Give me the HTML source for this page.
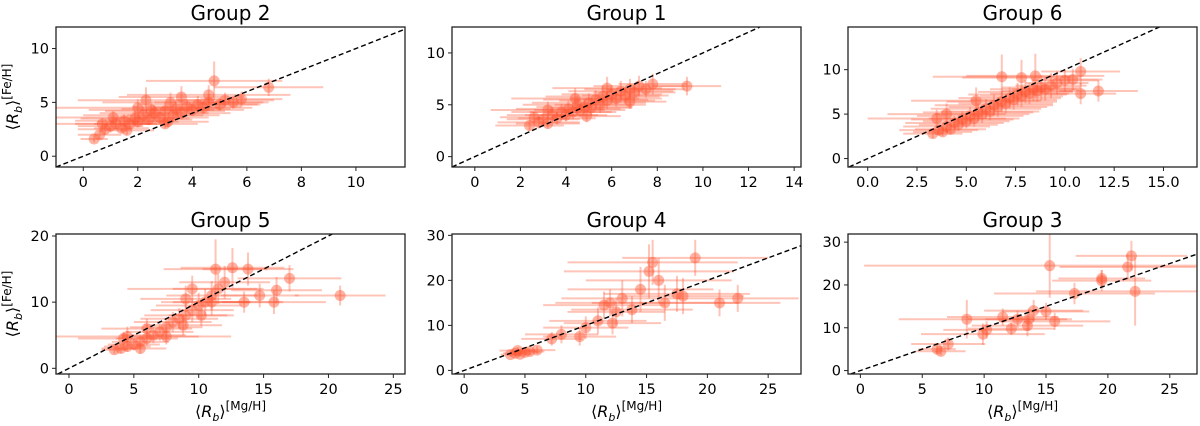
<!DOCTYPE html>
<html><head><meta charset="utf-8">
<style>
html,body{margin:0;padding:0;background:#fff;}
svg{display:block;font-family:"DejaVu Sans","Liberation Sans",sans-serif;}
</style></head>
<body>
<svg id="chart" width="1200" height="426" viewBox="0 0 1200 426" xmlns="http://www.w3.org/2000/svg"></svg>
<script>
// Group 2
const g2x=[0.4,0.6,0.8,1.0,1.2,1.4,1.5,1.7,1.9,2.0,2.2,2.3,2.4,2.6,2.8,3.0,3.1,3.2,3.4,3.6,3.6,3.8,4.0,4.2,4.4,4.6,4.8,5.0,5.2,5.5,5.8,6.8,1.1,0.7,2.0,2.5,3.0,1.6,4.6,3.3];
const g2y=[1.6,2.0,2.5,2.8,3.0,2.6,3.3,3.0,3.5,3.2,3.8,5.2,3.4,4.0,3.6,4.2,3.2,5.0,4.4,4.0,5.5,4.6,4.3,4.8,4.5,5.0,7.0,4.8,5.2,5.0,5.3,6.4,3.6,3.0,4.5,4.3,3.0,2.4,5.7,3.8];
const g2xe=[0.5,0.8,1.0,1.2,1.5,1.0,1.8,1.3,2.0,1.5,2.2,2.5,1.6,2.0,1.8,2.2,1.5,2.5,2.0,1.8,2.3,2.0,1.9,2.2,1.8,2.0,2.5,1.5,1.8,1.3,1.5,2.0,2.5,1.8,3.0,2.3,1.2,1.0,3.0,1.7];
const g2ye=[0.3,0.4,0.5,0.6,0.5,0.4,0.6,0.5,0.7,0.5,0.8,1.2,0.5,0.7,0.6,0.8,0.5,0.9,0.7,0.6,1.0,0.7,0.6,0.8,0.6,0.8,1.8,0.6,0.7,0.6,0.7,0.8,0.6,0.5,0.8,0.7,0.4,0.4,0.9,0.6];
// Group 1
const g1x=[2.4,2.8,3.0,3.2,3.4,3.6,3.8,4.0,4.1,4.3,4.5,4.6,4.8,5.0,5.1,5.3,5.5,5.6,5.8,6.0,6.2,6.4,6.6,6.8,7.0,7.2,7.5,7.8,9.3,3.2,4.4,2.6,5.8,6.8,4.9];
const g1y=[3.0,3.3,3.6,3.2,4.0,3.7,4.3,4.0,4.6,4.3,5.0,4.5,4.8,5.2,4.7,5.5,5.0,5.8,5.4,6.0,5.6,6.3,5.9,6.5,6.2,6.8,6.5,7.0,6.8,4.5,5.6,3.8,6.6,5.3,3.9];
const g1xe=[1.5,1.8,1.6,1.4,2.0,1.7,2.2,1.8,2.3,1.9,2.4,2.0,2.1,2.5,1.8,2.3,2.0,2.5,2.1,2.2,2.0,2.3,1.9,2.0,1.8,2.0,1.7,1.5,1.5,2.5,2.8,1.5,2.4,1.6,1.5];
const g1ye=[0.5,0.6,0.6,0.5,0.7,0.6,0.8,0.6,0.8,0.7,0.9,0.7,0.8,0.9,0.7,0.9,0.8,1.0,0.8,0.9,0.8,1.0,0.8,1.0,0.8,1.0,0.8,1.0,0.9,0.8,1.0,0.5,1.1,0.7,0.6];
// Group 6
const g6x=[3.3,3.6,3.8,4.0,4.2,4.4,4.6,4.8,5.0,5.2,5.4,5.6,5.8,6.0,6.2,6.4,6.6,6.8,7.0,7.2,7.4,7.6,7.8,8.0,8.2,8.4,8.6,8.8,9.0,9.3,9.6,10.0,10.4,10.8,11.7,10.8,6.8,7.8,8.5,4.0,3.5,5.5];
const g6y=[2.8,3.2,3.0,3.6,3.3,4.0,3.8,4.4,4.2,4.8,4.5,5.2,5.0,5.6,5.3,6.0,5.8,6.4,6.2,6.8,6.6,7.2,7.0,7.5,7.3,7.8,7.6,8.0,7.8,8.2,8.5,8.8,8.9,9.8,7.6,7.3,9.2,9.1,9.3,5.0,4.5,6.5];
const g6xe=[1.5,2.0,1.5,2.2,1.8,2.5,2.0,2.6,2.2,2.7,2.3,2.8,2.4,2.8,2.5,3.0,2.5,2.8,2.4,2.6,2.2,2.5,2.1,2.4,2.0,2.2,1.8,2.0,1.7,1.8,1.6,1.7,1.5,2.0,2.0,1.8,3.5,3.0,3.5,3.0,3.5,3.3];
const g6ye=[0.5,0.6,0.5,0.7,0.6,0.8,0.7,0.9,0.8,1.0,0.9,1.0,1.0,1.1,1.0,1.2,1.1,1.2,1.1,1.2,1.1,1.3,1.2,1.3,1.2,1.3,1.2,1.4,1.3,1.4,1.3,1.3,1.2,1.5,1.2,1.2,2.5,2.0,2.5,1.2,1.0,1.5];
// Group 5
const g5x=[3.5,4.0,4.5,5.0,5.5,6.0,6.5,7.0,7.5,8.0,8.5,9.0,9.5,10.0,10.5,11.0,11.5,12.0,11.3,12.6,13.8,17.0,16.0,14.7,15.8,13.5,20.9,9.0,11.0,4.2,6.0,7.5,5.5,8.8,10.2,4.5,9.5];
const g5y=[2.8,3.0,3.3,3.6,4.0,4.5,5.0,5.5,6.2,7.0,7.5,8.0,8.8,9.5,10.0,11.0,12.0,13.0,15.0,15.2,15.0,13.6,11.8,11.0,10.0,10.0,11.0,10.5,10.0,4.5,6.0,4.8,3.0,6.5,8.0,4.8,12.0];
const g5xe=[1.0,1.5,1.8,2.0,2.2,2.4,2.5,2.6,2.8,3.0,3.0,3.2,3.2,3.3,3.4,3.5,3.5,3.5,4.0,4.0,3.5,4.0,3.5,3.0,4.0,3.0,3.5,3.5,3.0,3.5,3.5,2.5,2.0,3.0,2.5,8.0,5.0];
const g5ye=[0.6,0.7,0.8,0.9,1.0,1.1,1.2,1.3,1.4,1.5,1.6,1.7,1.8,1.9,2.0,2.2,2.3,2.5,4.5,3.0,2.5,2.0,2.0,1.8,1.8,1.6,1.5,2.0,2.0,1.0,1.5,1.2,0.8,1.5,1.6,1.5,2.0];
// Group 4
const g4x=[3.8,4.2,4.6,5.0,5.4,4.4,6.0,7.2,8.0,9.5,10.0,11.0,11.5,12.0,12.5,13.0,13.8,14.5,15.2,15.5,16.0,16.5,17.5,18.0,19.0,21.0,22.5,12.2];
const g4y=[3.5,3.8,3.6,4.0,4.2,4.4,4.5,7.0,8.0,7.5,9.5,11.0,14.5,15.0,13.0,16.0,13.5,18.0,22.0,24.0,20.0,15.0,17.0,16.5,25.0,15.0,16.0,10.5];
const g4xe=[0.8,1.0,1.0,1.2,1.2,1.5,1.5,2.5,3.0,3.0,3.5,4.0,5.0,4.5,4.0,5.0,5.0,6.0,7.0,7.0,6.0,6.0,6.0,5.0,6.0,5.0,5.0,4.0];
const g4ye=[0.5,0.6,0.6,0.7,0.7,0.8,0.8,1.5,2.0,2.0,2.5,3.0,3.0,3.0,3.0,4.0,3.0,5.0,6.0,5.0,5.0,4.0,4.0,4.0,4.0,3.0,3.0,2.5];
// Group 3
const g3x=[6.2,6.5,7.1,8.6,9.9,10.2,11.5,12.2,12.7,13.5,13.6,14.0,15.0,15.3,15.7,17.3,19.5,19.5,21.6,21.9,22.2];
const g3y=[5.0,4.5,6.2,12.0,8.5,9.5,12.5,9.8,12.0,10.5,12.0,14.0,13.8,24.5,11.5,18.0,21.0,21.5,24.2,26.8,18.5];
const g3xe=[1.5,2.0,3.0,5.5,5.0,3.5,4.5,3.5,4.0,4.5,3.5,4.0,3.5,15.0,4.5,6.5,4.0,3.5,5.5,4.5,8.0];
const g3ye=[1.0,1.0,1.5,4.5,2.5,2.0,2.0,1.5,2.0,2.5,2.5,2.5,2.0,7.5,2.0,2.5,2.5,2.0,3.0,3.5,8.0];

const NS="http://www.w3.org/2000/svg";
const svg=document.getElementById('chart');
const COLOR="#ff5733";
function mk(tag,attrs,parent){const e=document.createElementNS(NS,tag);for(const k in attrs)e.setAttribute(k,attrs[k]);(parent||svg).appendChild(e);return e;}

const panels=[
 {id:'group-2',title:'Group 2',L:56,R:405,T:27,B:167,xmin:-1,xmax:11.8,ymin:-1,ymax:12,xt:[0,2,4,6,8,10],xl:['0','2','4','6','8','10'],yt:[0,5,10],xs:g2x,ys:g2y,xe:g2xe,ye:g2ye,ylab:true,xlab:false},
 {id:'group-1',title:'Group 1',L:452,R:801,T:27,B:167,xmin:-1,xmax:14.3,ymin:-1,ymax:12.5,xt:[0,2,4,6,8,10,12,14],xl:['0','2','4','6','8','10','12','14'],yt:[0,5,10],xs:g1x,ys:g1y,xe:g1xe,ye:g1ye,ylab:false,xlab:false},
 {id:'group-6',title:'Group 6',L:848,R:1197,T:27,B:167,xmin:-1,xmax:16.7,ymin:-0.95,ymax:14.8,xt:[0,2.5,5,7.5,10,12.5,15],xl:['0.0','2.5','5.0','7.5','10.0','12.5','15.0'],yt:[0,5,10],xs:g6x,ys:g6y,xe:g6xe,ye:g6ye,ylab:false,xlab:false},
 {id:'group-5',title:'Group 5',L:56,R:405,T:234,B:374,xmin:-1,xmax:25.9,ymin:-0.86,ymax:20.3,xt:[0,5,10,15,20,25],xl:['0','5','10','15','20','25'],yt:[0,10,20],xs:g5x,ys:g5y,xe:g5xe,ye:g5ye,ylab:true,xlab:true},
 {id:'group-4',title:'Group 4',L:452,R:801,T:234,B:374,xmin:-1,xmax:27.7,ymin:-0.8,ymax:30.3,xt:[0,5,10,15,20,25],xl:['0','5','10','15','20','25'],yt:[0,10,20,30],xs:g4x,ys:g4y,xe:g4xe,ye:g4ye,ylab:false,xlab:true},
 {id:'group-3',title:'Group 3',L:848,R:1197,T:234,B:374,xmin:-1,xmax:27.2,ymin:-0.8,ymax:31.9,xt:[0,5,10,15,20,25],xl:['0','5','10','15','20','25'],yt:[0,10,20,30],xs:g3x,ys:g3y,xe:g3xe,ye:g3ye,ylab:false,xlab:true}
];

panels.forEach((p,pi)=>{
  const sx=v=>p.L+(v-p.xmin)/(p.xmax-p.xmin)*(p.R-p.L);
  const sy=v=>p.B-(v-p.ymin)/(p.ymax-p.ymin)*(p.B-p.T);
  const g=mk('g',{});
  
  
  const cp=mk('clipPath',{id:'cp'+pi},g);
  mk('rect',{x:p.L,y:p.T,width:p.R-p.L,height:p.B-p.T},cp);
  const t=mk('text',{x:(p.L+p.R)/2,y:p.T-7,'text-anchor':'middle','font-size':'20'},g);
  t.textContent=p.title;
  
  
  const data=mk('g',{'clip-path':'url(#cp'+pi+')'},g);
  
  
  for(let i=0;i<p.xs.length;i++){
    const x=p.xs[i],y=p.ys[i];
    const h=mk('line',{x1:sx(x-p.xe[i]),x2:sx(x+p.xe[i]),y1:sy(y),y2:sy(y),stroke:COLOR,'stroke-width':2,'stroke-opacity':0.35},data);
    
    
    const v=mk('line',{x1:sx(x),x2:sx(x),y1:sy(y-p.ye[i]),y2:sy(y+p.ye[i]),stroke:COLOR,'stroke-width':2,'stroke-opacity':0.35},data);
    
    
    const c=mk('circle',{cx:sx(x),cy:sy(y),r:5.5,fill:COLOR,'fill-opacity':0.45},data);
    
    
  }
  const lo=Math.max(p.xmin,p.ymin),hi=Math.min(p.xmax,p.ymax);
  const d=mk('line',{x1:sx(lo),y1:sy(lo),x2:sx(hi),y2:sy(hi),stroke:'#000','stroke-width':1.4,'stroke-dasharray':'5,3','clip-path':'url(#cp'+pi+')'},g);
  
  
  const fr=mk('rect',{x:p.L,y:p.T,width:p.R-p.L,height:p.B-p.T,fill:'none',stroke:'#222','stroke-width':1.3},g);
  
  
  p.xt.forEach((v,i)=>{
    mk('line',{x1:sx(v),x2:sx(v),y1:p.B,y2:p.B+4,stroke:'#222','stroke-width':1},g);
    const tl=mk('text',{x:sx(v),y:p.B+20,'text-anchor':'middle','font-size':'14.5'},g);
    tl.textContent=p.xl[i];
    
    
  });
  p.yt.forEach(v=>{
    mk('line',{x1:p.L-4,x2:p.L,y1:sy(v),y2:sy(v),stroke:'#222','stroke-width':1},g);
    const tl=mk('text',{x:p.L-7,y:sy(v)+5,'text-anchor':'end','font-size':'14.5'},g);
    tl.textContent=String(v);
    
    
  });
  if(p.ylab){
    const yl=mk('text',{transform:'translate(18,'+((p.T+p.B)/2)+') rotate(-90)','text-anchor':'middle','font-size':'16'},g);
    yl.innerHTML='⟨<tspan font-style="italic">R</tspan><tspan font-style="italic" font-size="11" dy="4">b</tspan><tspan dy="-4">⟩</tspan><tspan font-size="12" dy="-7">[Fe/H]</tspan>';
    
    
  }
  if(p.xlab){
    const xl=mk('text',{x:(p.L+p.R)/2,y:417,'text-anchor':'middle','font-size':'16'},g);
    xl.innerHTML='⟨<tspan font-style="italic">R</tspan><tspan font-style="italic" font-size="11" dy="4">b</tspan><tspan dy="-4">⟩</tspan><tspan font-size="12" dy="-7">[Mg/H]</tspan>';
    
    
  }
});
</script>
</body></html>
